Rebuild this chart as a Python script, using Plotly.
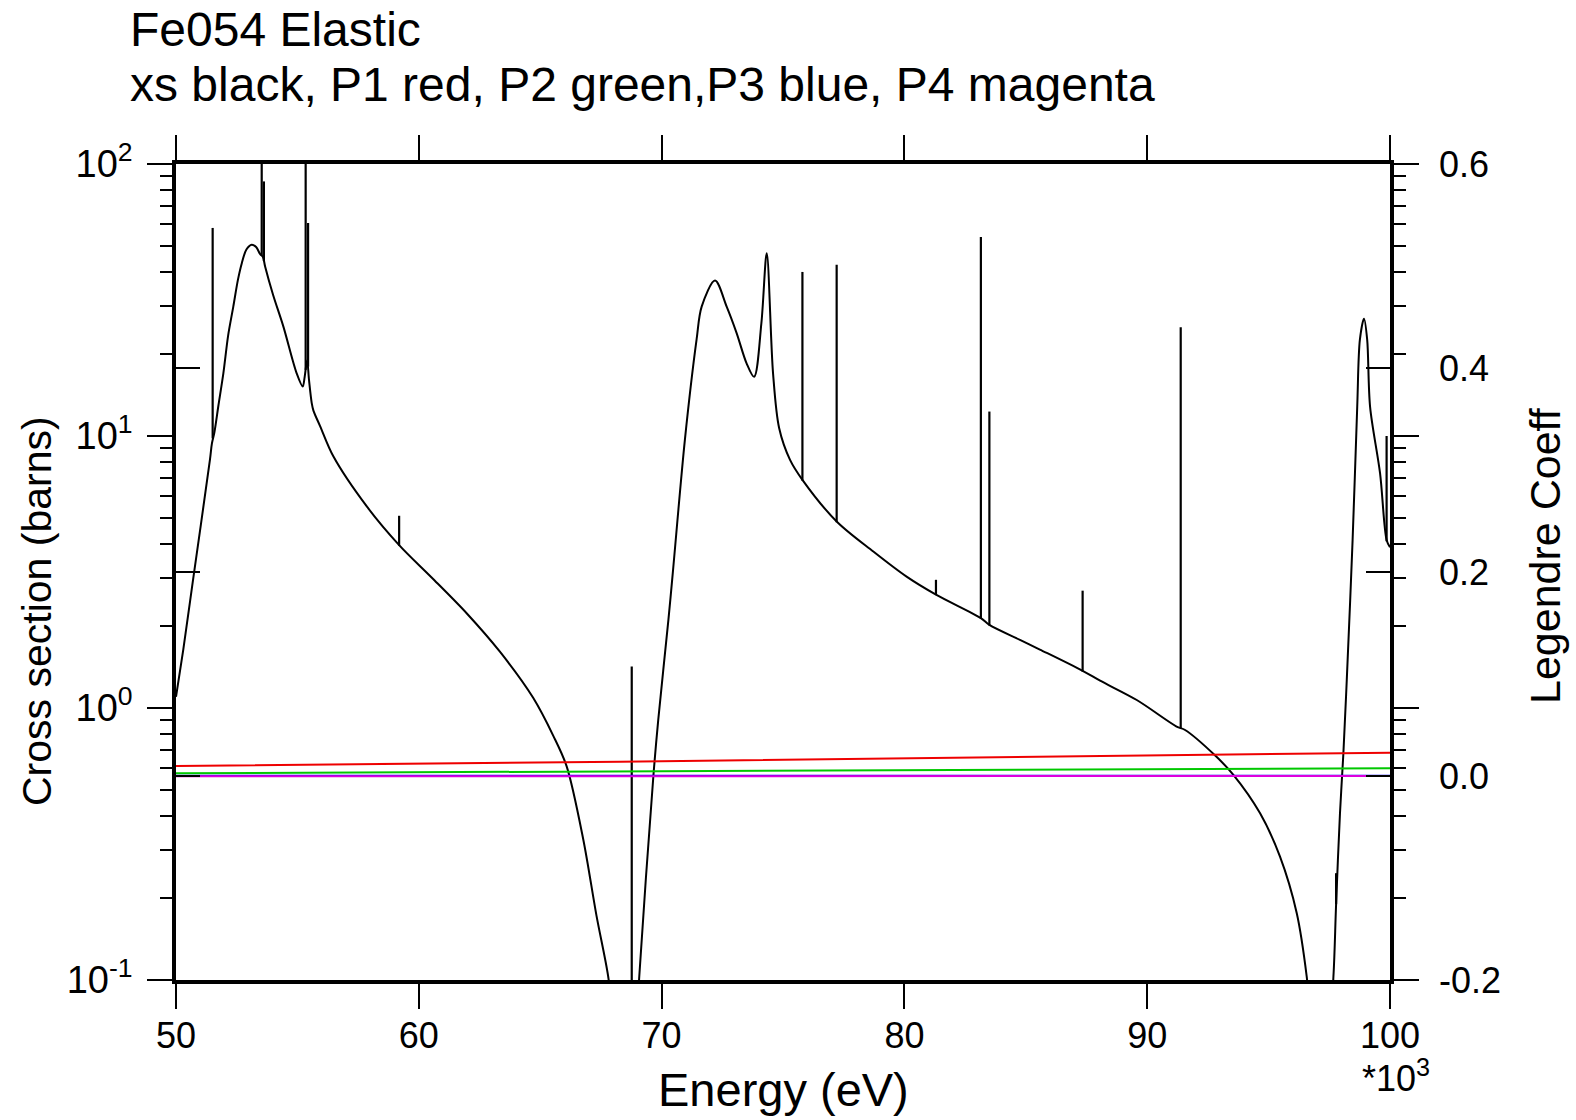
import plotly.graph_objects as go

# ---------------- data ----------------
# smooth (background) part of the elastic cross section, keV / barns
bg_energy_kev = [
    50.00, 50.30, 50.70, 51.40, 51.48, 51.58, 51.75, 51.95, 52.15, 52.36,
    52.55, 52.71, 52.90, 53.12, 53.30, 53.46, 53.58, 53.67, 54.00, 54.42,
    54.97, 55.22, 55.30, 55.40, 55.48, 55.59, 55.66, 55.93, 56.48, 57.85,
    59.19, 60.59, 61.97, 63.34, 64.71, 65.54, 66.09, 66.77, 67.32, 67.80,
    68.10, 68.50, 68.95, 69.08, 69.66, 69.86, 70.28, 70.46, 70.96, 71.44,
    71.65, 72.20, 72.68, 73.09, 73.50, 73.81, 74.11, 74.33,
    74.59, 74.84, 75.29, 75.80, 77.21, 78.72, 80.09, 81.30, 83.15, 83.50,
    84.76, 85.58, 87.34, 88.06, 89.57, 91.21, 91.56, 92.79, 93.55, 94.65,
    95.47, 96.16, 96.57, 96.90, 97.40, 97.67, 97.78, 97.94, 98.08, 98.22,
    98.46, 98.65, 98.76, 98.93, 99.06, 99.18, 99.59, 99.86, 100.00,
]
bg_xs_barns = [
    1.10, 1.64, 2.95, 8.2, 9.4, 10.3, 13.0, 17.0, 23.5, 29.9,
    37.5, 43.2, 48.5, 50.5, 49.5, 46.7, 45.5, 42.0, 33.0, 25.3,
    17.0, 15.2, 16.5, 19.0, 16.0, 13.2, 12.4, 10.9, 8.42, 5.52,
    3.97, 2.98, 2.23, 1.61, 1.09, 0.79, 0.61, 0.33, 0.172, 0.103,
    0.06, 0.03, 0.06, 0.103, 0.56, 0.90, 2.11, 3.13, 9.7, 22.6,
    29.9, 37.3, 29.9, 23.9, 18.5, 16.5, 26.0, 47.0,
    17.0, 10.7, 8.17, 6.9, 4.85, 3.76, 3.04, 2.61, 2.14, 2.02,
    1.78, 1.64, 1.37, 1.26, 1.07, 0.855, 0.83, 0.67, 0.568, 0.41,
    0.284, 0.176, 0.103, 0.05, 0.05, 0.103, 0.19, 0.41, 0.68, 1.27,
    4.15, 12.8, 22.6, 27.0, 22.6, 12.8, 7.3, 4.15, 3.9,
]

# narrow resonances: position (keV), foot and top (barns)
res_energy_kev = [51.51, 53.53, 53.62, 55.34, 55.44, 59.19, 68.77, 75.80,
                  77.21, 81.30, 83.15, 83.50, 87.34, 91.38, 97.78, 99.86]
res_foot_barns = [9.8, 46.0, 44.0, 17.5, 18.0, 3.95, 0.05, 6.85,
                  4.82, 2.60, 2.13, 2.01, 1.36, 0.84, 0.19, 4.1]
res_top_barns = [58.2, 150.0, 86.3, 150.0, 60.7, 5.09, 1.42, 40.1,
                 42.6, 2.96, 53.9, 12.3, 2.70, 25.1, 0.247, 10.0]

p1_energy = [50.0, 68.3, 88.1, 100.0]
p1_coeff = [0.0099, 0.0140, 0.0197, 0.0229]
p2_energy = [50.0, 88.1, 100.0]
p2_coeff = [0.0027, 0.0064, 0.0076]
p3_energy = [50.0, 100.0]
p3_coeff = [0.0002, 0.0003]
p4_energy = [50.0, 100.0]
p4_coeff = [-0.0003, 0.0]

x_tick_vals = [50, 60, 70, 80, 90, 100]
x_tick_text = ["50", "60", "70", "80", "90", "100"]
y_tick_vals = [0.1, 1, 10, 100]
y_tick_text = ["10<sup>-1</sup>", "10<sup>0</sup>", "10<sup>1</sup>", "10<sup>2</sup>"]
y_minor_vals = [0.2, 0.3, 0.4, 0.5, 0.6, 0.7, 0.8, 0.9,
                2, 3, 4, 5, 6, 7, 8, 9,
                20, 30, 40, 50, 60, 70, 80, 90]
y2_tick_vals = [-0.2, 0.0, 0.2, 0.4, 0.6]
y2_tick_text = ["-0.2", "0.0", "0.2", "0.4", "0.6"]

# ---------------- layout geometry ----------------
W, H = 1576, 1120
L, R, T, B = 176, 1390, 164, 980
FONT = "Liberation Sans, Arial, Helvetica, sans-serif"


def px_x(px):
    return (px - L) / (R - L)


def px_y(py):
    return (B - py) / (B - T)


fig = go.Figure()

fig.add_trace(go.Scatter(x=bg_energy_kev, y=bg_xs_barns, mode="lines",
                         line=dict(color="black", width=2, shape="spline",
                                   smoothing=0.9),
                         yaxis="y", showlegend=False, hoverinfo="skip"))

# resonance spikes: vertical segments built from the resonance arrays
sx, sy = [], []
for e, f, t in zip(res_energy_kev, res_foot_barns, res_top_barns):
    sx += [e, e, None]
    sy += [f, t, None]
fig.add_trace(go.Scatter(x=sx, y=sy, mode="lines",
                         line=dict(color="black", width=2.2),
                         yaxis="y", showlegend=False, hoverinfo="skip"))

for ex, cy, col in [(p3_energy, p3_coeff, "#0000ff"),
                    (p1_energy, p1_coeff, "#ee0000"),
                    (p2_energy, p2_coeff, "#00c800"),
                    (p4_energy, p4_coeff, "#dd00dd")]:
    fig.add_trace(go.Scatter(x=ex, y=cy, mode="lines",
                             line=dict(color=col, width=2), yaxis="y2",
                             showlegend=False, hoverinfo="skip"))

axis_common = dict(showline=True, linecolor="black", linewidth=3.5,
                   showgrid=False, zeroline=False, tickcolor="black",
                   tickwidth=2)

fig.update_layout(
    width=W, height=H,
    margin=dict(l=L, r=W - R, t=T, b=H - B, pad=0),
    paper_bgcolor="white", plot_bgcolor="white",
    font=dict(family=FONT, color="black"),
    xaxis=dict(range=[50, 100], tickmode="array", tickvals=x_tick_vals,
               ticktext=x_tick_text, ticks="outside", ticklen=25,
               mirror="allticks", tickfont=dict(size=36),
               ticklabelstandoff=-4, **axis_common),
    yaxis=dict(type="log", range=[-1, 2], tickmode="array",
               tickvals=y_tick_vals, ticktext=y_tick_text,
               ticks="outside", ticklen=25, mirror="allticks",
               tickfont=dict(size=38), ticklabelstandoff=7,
               minor=dict(tickmode="array", tickvals=y_minor_vals,
                          ticks="outside", ticklen=12, tickwidth=2,
                          tickcolor="black", showgrid=False),
               **axis_common),
    yaxis2=dict(overlaying="y", side="right", range=[-0.2, 0.6],
                tickmode="array", tickvals=y2_tick_vals, ticktext=y2_tick_text,
                ticks="inside", ticklen=24, mirror="allticks",
                ticklabelstandoff=38,
                tickfont=dict(size=36), **axis_common),
)

annotations = [
    dict(text="Fe054 Elastic", x=px_x(128), y=px_y(30), xanchor="left",
         yanchor="middle", font=dict(size=48)),
    dict(text="xs black, P1 red, P2 green,P3 blue, P4 magenta", x=px_x(128),
         y=px_y(85), xanchor="left", yanchor="middle", font=dict(size=48)),
    dict(text="Energy (eV)", x=px_x(783), y=px_y(1089), xanchor="center",
         yanchor="middle", font=dict(size=47)),
    dict(text="*10<sup>3</sup>", x=px_x(1396), y=px_y(1076), xanchor="center",
         yanchor="middle", font=dict(size=36)),
    dict(text="Cross section (barns)", x=px_x(37), y=px_y(611),
         xanchor="center", yanchor="middle", textangle=-90,
         font=dict(size=41)),
    dict(text="Legendre Coeff", x=px_x(1545), y=px_y(556),
         xanchor="center", yanchor="middle", textangle=-90,
         font=dict(size=43)),
]
for a in annotations:
    a.update(xref="paper", yref="paper", showarrow=False)
fig.update_layout(annotations=annotations)

fig.write_html("out.html")
